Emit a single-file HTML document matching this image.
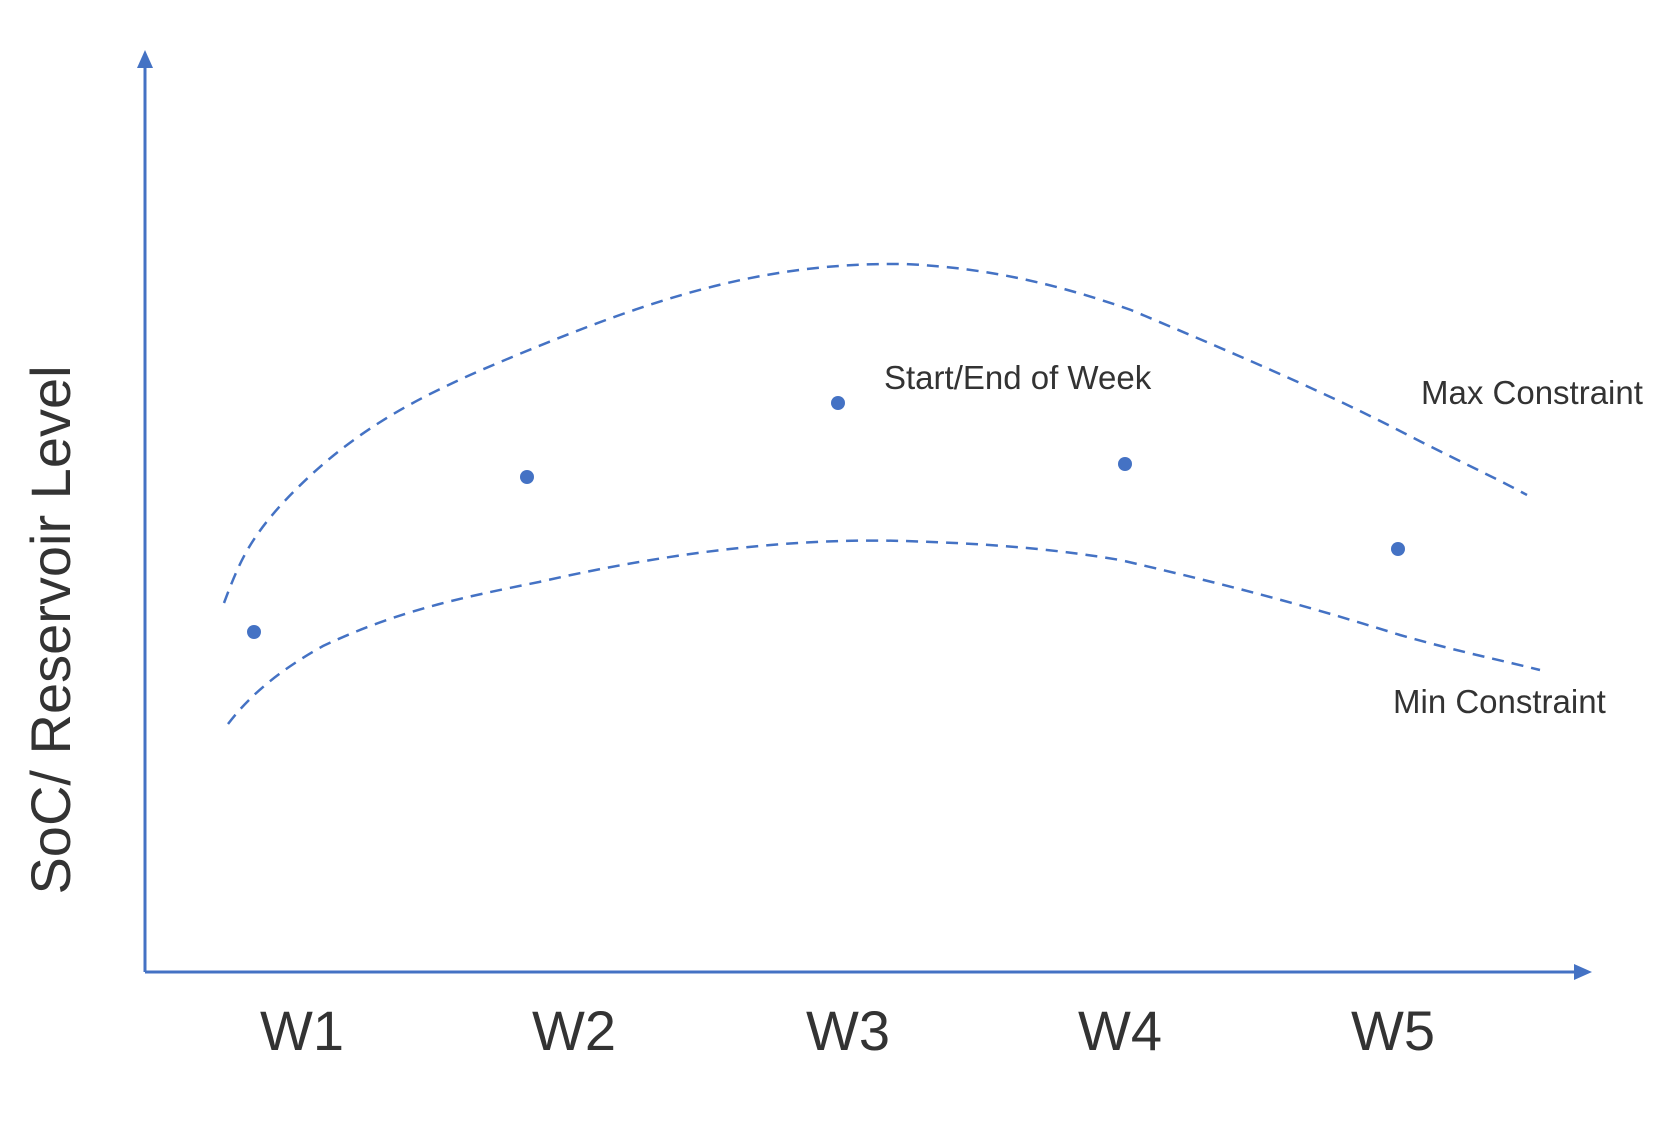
<!DOCTYPE html>
<html><head><style>html,body{margin:0;padding:0;background:#fff}</style></head>
<body>
<svg width="1680" height="1120" viewBox="0 0 1680 1120" xmlns="http://www.w3.org/2000/svg">
<line x1="145" y1="972" x2="145" y2="62" stroke="#4472c4" stroke-width="3"/>
<path d="M137,68 L145,50 L153,68 z" fill="#4472c4"/>
<line x1="145" y1="972" x2="1578" y2="972" stroke="#4472c4" stroke-width="3"/>
<path d="M1574,964 L1592,972 L1574,980 z" fill="#4472c4"/>
<g fill="none" stroke="#4472c4" stroke-width="2.5" stroke-dasharray="12,8">
<path d="M224,603 C240,560 250,540 280,506 C350,430 420,395 517,355 C650,300 760,262 905,264 C990,268 1060,285 1131,310 C1250,360 1330,395 1400,431 C1450,457 1490,475 1527,495"/>
<path d="M228,724 C250,695 280,670 323,646 C400,610 460,598 539,582 C680,550 800,538 905,541 C1000,544 1060,550 1120,560 C1250,590 1320,610 1400,635 C1460,652 1500,660 1540,670"/>
</g>
<g fill="#4472c4">
<circle cx="254" cy="632" r="7"/><circle cx="527" cy="477" r="7"/><circle cx="838" cy="403" r="7"/><circle cx="1125" cy="464" r="7"/><circle cx="1398" cy="549" r="7"/>
</g>
<g font-family="Liberation Sans, sans-serif" fill="#333">
<text x="884" y="389" font-size="33">Start/End of Week</text>
<text x="1421" y="404" font-size="33">Max Constraint</text>
<text x="1393" y="713" font-size="33">Min Constraint</text>
<g font-size="56" text-anchor="middle">
<text x="302" y="1050">W1</text><text x="574" y="1050">W2</text><text x="848" y="1050">W3</text><text x="1120" y="1050">W4</text><text x="1393" y="1050">W5</text>
</g>
<text transform="translate(70,630) rotate(-90)" font-size="56" text-anchor="middle">SoC/ Reservoir Level</text>
</g>
</svg>
</body></html>
